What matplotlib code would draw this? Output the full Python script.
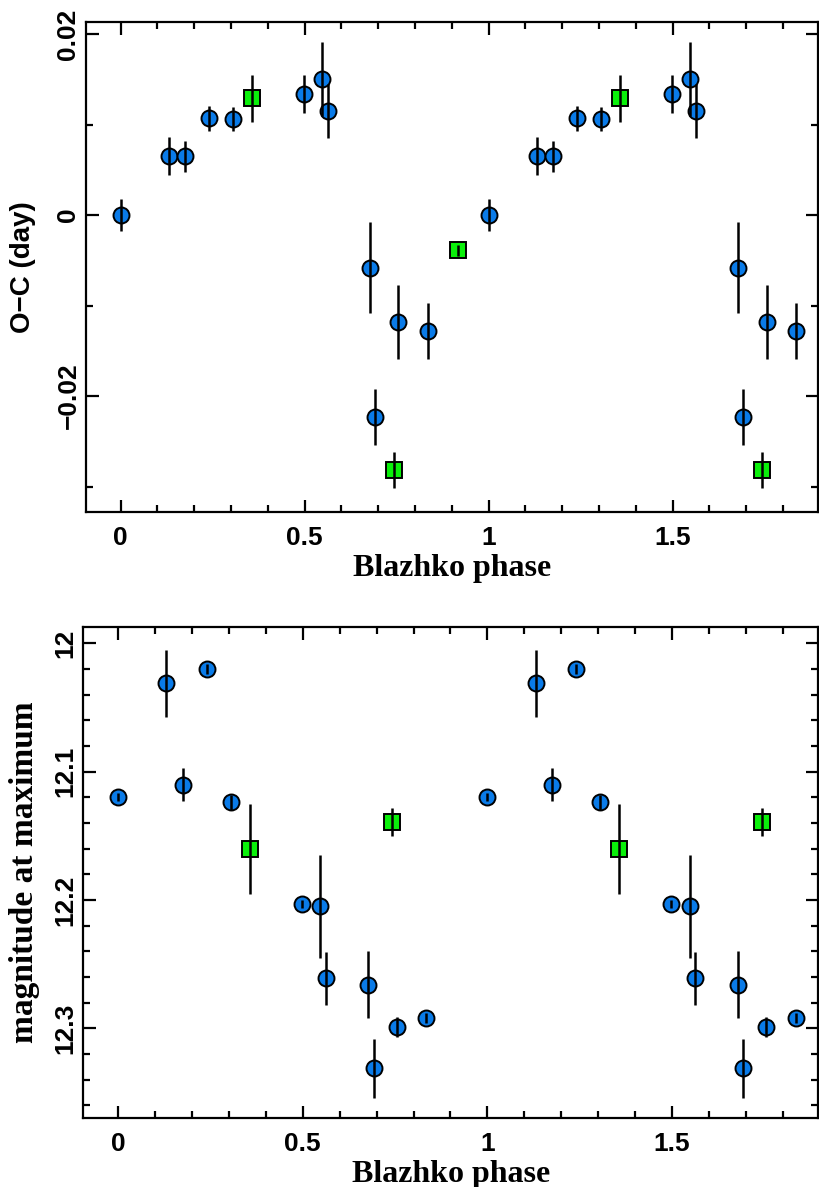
import numpy as np
import matplotlib
matplotlib.use('Agg')
import matplotlib.pyplot as plt
from matplotlib.ticker import MultipleLocator

# Maxima timings and brightness folded with the Blazhko period
fase_circ = [0.0, 0.131, 0.176, 0.240, 0.306, 0.498, 0.548, 0.563, 0.677, 0.692, 0.755, 0.835]
oc_circ = [0.0, 0.0065, 0.0065, 0.0107, 0.0106, 0.0134, 0.0150, 0.0115, -0.0058, -0.0223, -0.0118, -0.0128]
oc_circ_err = [0.0018, 0.0021, 0.0017, 0.0014, 0.0013, 0.0021, 0.0041, 0.0030, 0.0050, 0.0031, 0.0041, 0.0031]
mag_circ = [12.120, 12.031, 12.110, 12.020, 12.124, 12.203, 12.205, 12.261, 12.266, 12.331, 12.299, 12.292]
mag_circ_err = [0.003, 0.026, 0.0125, 0.004, 0.006, 0.003, 0.040, 0.0205, 0.026, 0.023, 0.0075, 0.004]

fase_cuad = [0.357, 0.743, 0.916]
oc_cuad = [0.0129, -0.0282, -0.0039]
oc_cuad_err = [0.0026, 0.0020, 0.0006]
mag_cuad = [12.160, 12.139]
mag_cuad_err = [0.035, 0.011]

azul = '#0a7be8'
verde = '#0af00a'


def dibujar(ax, fase, y, yerr, marker, color):
    # cada punto se dibuja dos veces: fase y fase + 1
    fase = np.array(fase[:len(y)])
    x = np.concatenate([fase, fase + 1])
    yy = np.concatenate([y, y])
    ee = np.concatenate([yerr, yerr])
    ax.plot(x, yy, linestyle='none', marker=marker, markersize=11.5 if marker == 'o' else 11,
            markerfacecolor=color, markeredgecolor='black', markeredgewidth=1.4, zorder=2)
    ax.errorbar(x, yy, yerr=ee, fmt='none', ecolor='black', elinewidth=1.8, capsize=0, zorder=3)


def estilo(ax):
    for s in ax.spines.values():
        s.set_linewidth(1.6)
    ax.tick_params(which='both', direction='in', top=True, right=True, width=1.6)
    ax.tick_params(which='major', length=9)
    ax.tick_params(which='minor', length=5)
    ax.tick_params(axis='x', labelsize=19, pad=10)
    ax.tick_params(axis='y', labelsize=19, pad=4)
    ax.xaxis.set_major_locator(MultipleLocator(0.5))
    ax.xaxis.set_minor_locator(MultipleLocator(0.1))
    ax.set_xlim(-0.094, 1.895)
    ax.xaxis.set_major_formatter(plt.FuncFormatter(lambda v, p: f'{v:g}'))
    for t in ax.get_xticklabels() + ax.get_yticklabels():
        t.set_fontweight('bold')
        t.set_family('Liberation Sans')
    for t in ax.get_yticklabels():
        t.set_rotation(90)
        t.set_va('center')
    ax.set_xlabel('Blazhko phase', family='Liberation Serif', fontweight='bold', fontsize=23, labelpad=3)


fig = plt.figure(figsize=(8.2, 11.87), dpi=100)

# panel O-C
ax1 = fig.add_axes([0.1049, 0.5689, 0.8927, 0.4126])
dibujar(ax1, fase_circ, oc_circ, oc_circ_err, 'o', azul)
dibujar(ax1, fase_cuad, oc_cuad, oc_cuad_err, 's', verde)
ax1.set_ylim(-0.03278, 0.02133)
ax1.yaxis.set_major_locator(MultipleLocator(0.02))
ax1.yaxis.set_minor_locator(MultipleLocator(0.01))
ax1.yaxis.set_major_formatter(plt.FuncFormatter(lambda v, p: '0' if abs(v) < 1e-9 else f'{v:g}'.replace('-', '\u2212')))
estilo(ax1)
ax1.set_ylabel('O\u2212C (day)', family='Liberation Sans', fontweight='bold', fontsize=20, labelpad=15)

# panel magnitud
ax2 = fig.add_axes([0.1016, 0.0581, 0.8960, 0.4139])
dibujar(ax2, fase_circ, mag_circ, mag_circ_err, 'o', azul)
dibujar(ax2, fase_cuad, mag_cuad, mag_cuad_err, 's', verde)
ax2.set_ylim(12.370, 11.987)
ax2.yaxis.set_major_locator(MultipleLocator(0.1))
ax2.yaxis.set_minor_locator(MultipleLocator(0.02))
ax2.yaxis.set_major_formatter(plt.FuncFormatter(lambda v, p: f'{v:g}'))
estilo(ax2)
ax2.set_ylabel('magnitude at maximum', family='Liberation Serif', fontweight='bold', fontsize=24, labelpad=10)

fig.savefig('out.png', dpi=100)
